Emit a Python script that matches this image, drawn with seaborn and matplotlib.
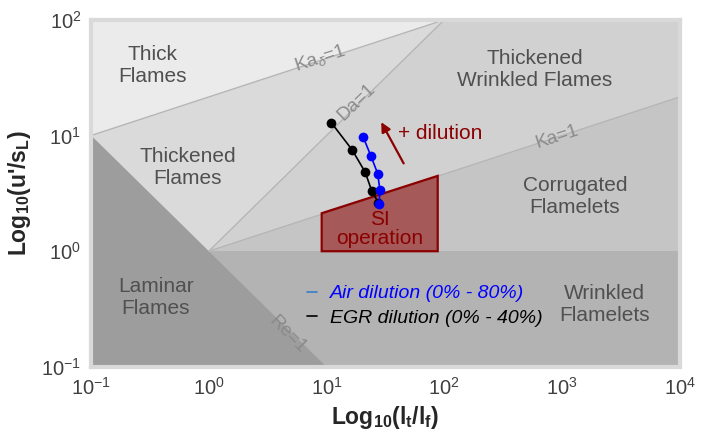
import numpy as np
import pandas as pd
import matplotlib
matplotlib.use("Agg")
import matplotlib.pyplot as plt
import seaborn as sns
from matplotlib.lines import Line2D

# ---- data ----
air_lt_lf = [28.0, 28.4, 27.2, 23.8, 20.5]
air_u_sl = [2.55, 3.39, 4.69, 6.68, 9.69]
egr_lt_lf = [27.6, 24.2, 21.3, 16.5, 11.0]
egr_u_sl = [2.62, 3.33, 4.83, 7.52, 12.9]
si_x = [9.1, 88.0, 88.0, 9.1]
si_y = [2.13, 4.48, 1.0, 1.0]
arrow_tail = (46.4, 5.47)
arrow_head = (28.4, 13.7)
series_labels = ["Air dilution (0% - 80%)", "EGR dilution (0% - 40%)"]
x_ticks = [1e-1, 1e0, 1e1, 1e2, 1e3, 1e4]
y_ticks = [1e-1, 1e0, 1e1, 1e2]

sns.set_theme(style="white")
plt.rcParams['font.family'] = ['Liberation Sans', 'DejaVu Sans']
plt.rcParams['mathtext.fontset'] = 'custom'
plt.rcParams['mathtext.rm'] = 'Liberation Sans'
plt.rcParams['mathtext.bf'] = 'Liberation Sans:bold'
plt.rcParams['mathtext.it'] = 'Liberation Sans:italic'
plt.rcParams['axes.unicode_minus'] = False

fig = plt.figure(figsize=(7.14, 4.41), dpi=100)
ax = fig.add_axes([0.1275, 0.168, 0.8245, 0.787])
ax.set_xscale('log')
ax.set_yscale('log')
ax.set_xlim(1e-1, 1e4)
ax.set_ylim(1e-1, 1e2)

xs = np.logspace(-1, 4, 400)
ka = xs ** (1 / 3)
kad = 100 ** (2 / 3) * xs ** (1 / 3)
da = xs
re = 1 / xs

# background regions
c_thick, c_thickened, c_tw, c_corr, c_wrink, c_lam = '#ebebeb', '#dadada', '#d1d1d1', '#c5c5c5', '#b3b3b3', '#9d9d9d'
ax.fill_between(xs, 1e-2, 1e3, color=c_wrink, lw=0, zorder=0)
ax.fill_between(xs, 1, 1e3, where=xs >= 1, color=c_corr, lw=0, zorder=0.1)
ax.fill_between(xs, ka, 1e3, where=xs >= 1, color=c_tw, lw=0, zorder=0.2)
m = xs <= 100
ax.fill_between(xs[m], np.maximum(re[m], da[m]), 1e3, color=c_thickened, lw=0, zorder=0.3)
ax.fill_between(xs, kad, 1e3, color=c_thick, lw=0, zorder=0.4)
ax.fill_between(xs, 1e-2, re, color=c_lam, lw=0, zorder=0.5)

lc = '#b5b5b5'
ax.plot(xs, kad, color=lc, lw=1, zorder=1)
mm = xs >= 1
ax.plot(xs[mm], ka[mm], color=lc, lw=1, zorder=1)
ax.plot(xs[mm & m], da[mm & m], color=lc, lw=1, zorder=1)

# SI operation polygon
ax.fill(si_x, si_y, facecolor='#8b0000', alpha=0.55, lw=0, zorder=2)
ax.fill(si_x, si_y, facecolor='none', edgecolor='#8b0000', lw=1.6, zorder=2.1)
ax.text(28.4, 1.56, "SI\noperation", color='#8b0000',
        fontsize=15, ha='center', va='center', linespacing=0.95, zorder=3)

# data
df = pd.DataFrame({
    'lt_lf': egr_lt_lf + air_lt_lf,
    'u_sl': egr_u_sl + air_u_sl,
    'series': [series_labels[1]] * len(egr_lt_lf) + [series_labels[0]] * len(air_lt_lf),
})
sns.lineplot(data=df[df.series == series_labels[1]], x='lt_lf', y='u_sl', sort=False,
             color='black', marker='o', markersize=7, markeredgewidth=0, lw=1.2, ax=ax, zorder=4)
sns.lineplot(data=df[df.series == series_labels[0]], x='lt_lf', y='u_sl', sort=False,
             color='#0000ff', marker='o', markersize=7, markeredgewidth=0, lw=1.2, ax=ax, zorder=5)

ax.annotate('', xy=arrow_head, xytext=arrow_tail,
            arrowprops=dict(arrowstyle='-|>', color='#8b0000', lw=1.6, mutation_scale=14), zorder=6)
ax.text(92, 10.5, "+ dilution", color='#8b0000', fontsize=15, ha='center', va='center', zorder=6)

# region labels
tc = '#505050'
fs = 15
ax.text(0.33, 40, "Thick\nFlames", color=tc, fontsize=fs, ha='center', va='center')
ax.text(0.665, 5.25, "Thickened\nFlames", color=tc, fontsize=fs, ha='center', va='center')
ax.text(588, 37, "Thickened\nWrinkled Flames", color=tc, fontsize=fs, ha='center', va='center')
ax.text(1285, 2.95, "Corrugated\nFlamelets", color=tc, fontsize=fs, ha='center', va='center')
ax.text(0.356, 0.395, "Laminar\nFlames", color=tc, fontsize=fs, ha='center', va='center')
ax.text(2307, 0.344, "Wrinkled\nFlamelets", color=tc, fontsize=fs, ha='center', va='center')

# boundary labels
gc = '#8a8a8a'
ax.text(8.8, 47, r"Ka$_{\delta}$=1", color=gc, fontsize=13.5, rotation=18, ha='center', va='center')
ax.text(18.1, 19.5, "Da=1", color=gc, fontsize=13.5, rotation=44, ha='center', va='center')
ax.text(903, 9.75, "Ka=1", color=gc, fontsize=13.5, rotation=18, ha='center', va='center')
ax.text(4.7, 0.19, "Re=1", color=gc, fontsize=13.5, rotation=-45, ha='center', va='center')

# legend
handles = [Line2D([0], [0], color='#3a7dc9', lw=1.2), Line2D([0], [0], color='black', lw=1.2)]
leg = ax.legend(handles, series_labels, loc='center', bbox_to_anchor=(0.567, 0.176),
                frameon=False, handlelength=0.5, handletextpad=0.7, labelspacing=0.35,
                prop={'style': 'italic', 'size': 14})
leg.get_texts()[0].set_color('#0000ff')
leg.get_texts()[1].set_color('black')

ax.set_xticks(x_ticks)
ax.set_yticks(y_ticks)
ax.minorticks_off()
ax.tick_params(axis='both', length=0, labelsize=14.5, labelcolor='#404040', pad=7)
for s in ax.spines.values():
    s.set_color('#d9d9d9')
    s.set_linewidth(3)
ax.set_xlabel(r"Log$_{\mathbf{10}}$(l$_{\mathbf{t}}$/l$_{\mathbf{f}}$)", fontsize=16.5, fontweight='bold', labelpad=4)
ax.set_ylabel(r"Log$_{\mathbf{10}}$(u'/s$_{\mathbf{L}}$)", fontsize=16.5, fontweight='bold', labelpad=6)

fig.savefig('out.png', dpi=100)
